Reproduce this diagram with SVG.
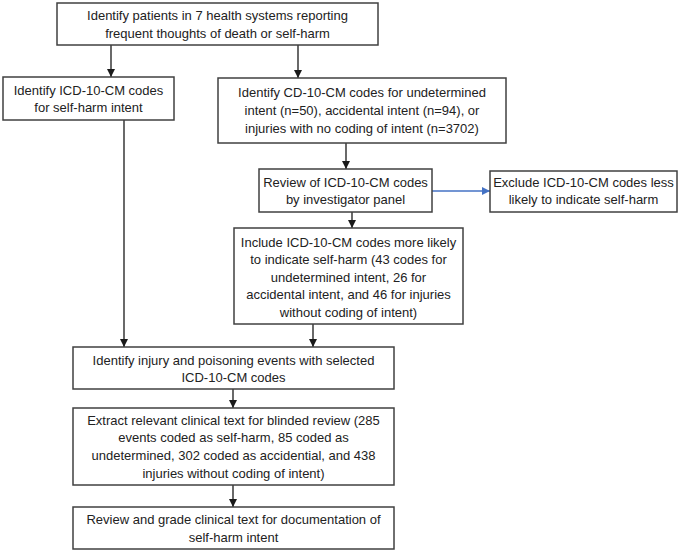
<svg xmlns="http://www.w3.org/2000/svg" width="680" height="552" viewBox="0 0 680 552">
<defs>
<style>
.box{fill:#fff;stroke:#404040;stroke-width:1.5}
.t{font-family:"Liberation Sans",Arial,sans-serif;font-size:13px;fill:#222;text-anchor:middle}
.c{fill:none;stroke:#1a1a1a;stroke-width:1.3}
.b{fill:none;stroke:#4472c4;stroke-width:1.3}
</style>
<marker id="ah" viewBox="0 0 10 10" refX="10" refY="5" markerWidth="8" markerHeight="8" markerUnits="userSpaceOnUse" orient="auto"><path d="M0,0 L10,5 L0,10 z" fill="#1a1a1a"/></marker>
<marker id="ahb" viewBox="0 0 10 10" refX="10" refY="5" markerWidth="8" markerHeight="8" markerUnits="userSpaceOnUse" orient="auto"><path d="M0,0 L10,5 L0,10 z" fill="#4472c4"/></marker>
</defs>
<rect width="680" height="552" fill="#fff"/>
<g id="connectors">
<line class="c" x1="111" y1="45" x2="111" y2="77" marker-end="url(#ah)"/>
<line class="c" x1="298" y1="45" x2="298" y2="78" marker-end="url(#ah)"/>
<line class="c" x1="124" y1="120" x2="124" y2="347" marker-end="url(#ah)"/>
<line class="c" x1="346" y1="143" x2="346" y2="169" marker-end="url(#ah)"/>
<line class="b" x1="432" y1="191" x2="490" y2="191" marker-end="url(#ahb)"/>
<line class="c" x1="352" y1="212" x2="352" y2="228" marker-end="url(#ah)"/>
<line class="c" x1="313" y1="324" x2="313" y2="347" marker-end="url(#ah)"/>
<line class="c" x1="233" y1="389" x2="233" y2="408" marker-end="url(#ah)"/>
<line class="c" x1="233" y1="485" x2="233" y2="507" marker-end="url(#ah)"/>
</g>
<g id="n1"><rect class="box" x="57" y="3" width="321" height="42"/>
<text class="t" x="217.5" y="20">Identify patients in 7 health systems reporting</text>
<text class="t" x="217.5" y="38">frequent thoughts of death or self-harm</text></g>
<g id="n2"><rect class="box" x="3" y="77" width="171" height="43"/>
<text class="t" x="88.5" y="95">Identify ICD-10-CM codes</text>
<text class="t" x="88.5" y="112">for self-harm intent</text></g>
<g id="n3"><rect class="box" x="218" y="78" width="288" height="65"/>
<text class="t" x="362" y="97">Identify CD-10-CM codes for undetermined</text>
<text class="t" x="362" y="115">intent (n=50), accidental intent (n=94), or</text>
<text class="t" x="362" y="133">injuries with no coding of intent (n=3702)</text></g>
<g id="n4"><rect class="box" x="259" y="169" width="173" height="43"/>
<text class="t" x="345.5" y="187">Review of ICD-10-CM codes</text>
<text class="t" x="345.5" y="204">by investigator panel</text></g>
<g id="n5"><rect class="box" x="490" y="171" width="187" height="41"/>
<text class="t" x="583.5" y="187">Exclude ICD-10-CM codes less</text>
<text class="t" x="583.5" y="204">likely to indicate self-harm</text></g>
<g id="n6"><rect class="box" x="234" y="228" width="229" height="96"/>
<text class="t" x="348.5" y="247">Include ICD-10-CM codes more likely</text>
<text class="t" x="348.5" y="264">to indicate self-harm (43 codes for</text>
<text class="t" x="348.5" y="282">undetermined intent, 26 for</text>
<text class="t" x="348.5" y="299">accidental intent, and 46 for injuries</text>
<text class="t" x="348.5" y="317">without coding of intent)</text></g>
<g id="n7"><rect class="box" x="73" y="347" width="321" height="42"/>
<text class="t" x="233.5" y="365">Identify injury and poisoning events with selected</text>
<text class="t" x="233.5" y="382">ICD-10-CM codes</text></g>
<g id="n8"><rect class="box" x="73" y="408" width="321" height="77"/>
<text class="t" x="233.5" y="425">Extract relevant clinical text for blinded review (285</text>
<text class="t" x="233.5" y="442">events coded as self-harm, 85 coded as</text>
<text class="t" x="233.5" y="460">undetermined, 302 coded as accidential, and 438</text>
<text class="t" x="233.5" y="478">injuries without coding of intent)</text></g>
<g id="n9"><rect class="box" x="73" y="507" width="321" height="42"/>
<text class="t" x="233.5" y="524">Review and grade clinical text for documentation of</text>
<text class="t" x="233.5" y="542">self-harm intent</text></g>
</svg>
